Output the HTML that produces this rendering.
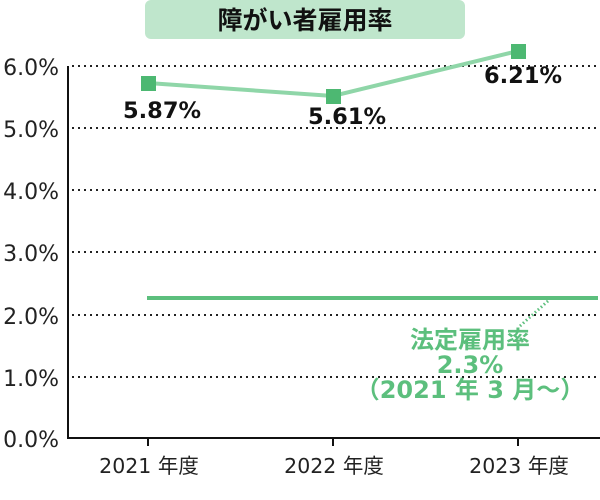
<!DOCTYPE html>
<html><head><meta charset="utf-8"><style>
body{margin:0;background:#fff;}
svg{display:block;font-family:"DejaVu Sans","Noto Sans CJK JP",sans-serif;}
</style></head><body>
<svg width="600" height="500" viewBox="0 0 600 500">
<rect x="145" y="0" width="320" height="39" rx="6" fill="#bfe6cc"/>
<text x="305" y="29" text-anchor="middle" font-size="25" font-weight="bold" fill="#111" font-family="Noto Sans CJK JP, sans-serif">障がい者雇用率</text>
<g stroke="#222" stroke-width="2" stroke-dasharray="2,4">
<line x1="72" y1="66" x2="600" y2="66"/>
<line x1="72" y1="128" x2="600" y2="128"/>
<line x1="72" y1="190" x2="600" y2="190"/>
<line x1="72" y1="252" x2="600" y2="252"/>
<line x1="72" y1="315" x2="600" y2="315"/>
<line x1="72" y1="377" x2="600" y2="377"/>
</g>
<line x1="68" y1="66" x2="68" y2="439" stroke="#111" stroke-width="2"/>
<line x1="67" y1="438" x2="600" y2="438" stroke="#111" stroke-width="2"/>
<g stroke="#111" stroke-width="2"><line x1="148" y1="438" x2="148" y2="446"/><line x1="333" y1="438" x2="333" y2="446"/><line x1="518" y1="438" x2="518" y2="446"/></g>
<g font-size="22" fill="#222" text-anchor="end">
<text x="59" y="75">6.0%</text><text x="59" y="137">5.0%</text><text x="59" y="199">4.0%</text>
<text x="59" y="261">3.0%</text><text x="59" y="324">2.0%</text><text x="59" y="386">1.0%</text><text x="59" y="447">0.0%</text>
</g>
<g font-size="20.5" fill="#222" text-anchor="middle">
<text x="149" y="473">2021 年度</text><text x="334" y="473">2022 年度</text><text x="519" y="473">2023 年度</text>
</g>
<line x1="147" y1="298" x2="598" y2="298" stroke="#5cbf7d" stroke-width="4"/>
<line x1="548" y1="301" x2="520" y2="326" stroke="#5cbf7d" stroke-width="3" stroke-dasharray="1.5,2.5"/>
<polyline points="148,83 333,96 518,51" fill="none" stroke="#8fd6a8" stroke-width="4"/>
<g fill="#4db872"><rect x="141" y="76" width="15" height="15"/><rect x="326" y="89" width="15" height="15"/><rect x="511" y="44" width="15" height="15"/></g>
<g font-size="22.5" font-weight="bold" fill="#111" text-anchor="middle">
<text x="162" y="118">5.87%</text><text x="347" y="124">5.61%</text><text x="523" y="83">6.21%</text>
</g>
<g font-size="24" font-weight="bold" fill="#5cbf7d" text-anchor="middle">
<text x="470" y="348">法定雇用率</text><text x="470" y="373">2.3%</text><text x="470" y="398">（2021 年 3 月〜）</text>
</g>
</svg>
</body></html>
